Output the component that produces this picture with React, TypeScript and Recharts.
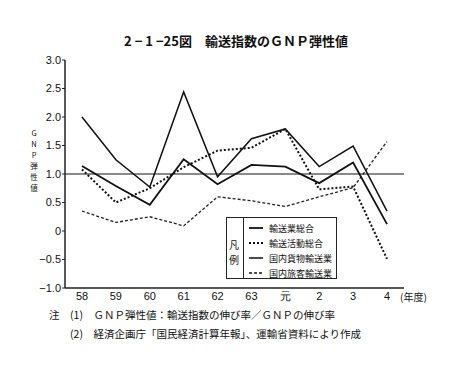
import React from "react";
import { LineChart, Line, XAxis, YAxis, ReferenceLine } from "recharts";

const categories = ["58", "59", "60", "61", "62", "63", "元", "2", "3", "4"];
const freight = [2.0, 1.25, 0.77, 2.44, 0.95, 1.62, 1.79, 1.13, 1.49, 0.35];
const total = [1.14, 0.79, 0.46, 1.26, 0.82, 1.16, 1.13, 0.84, 1.2, 0.12];
const activity = [1.08, 0.5, 0.75, 1.12, 1.41, 1.46, 1.79, 0.73, 0.78, -0.49];
const passenger = [0.35, 0.15, 0.25, 0.09, 0.6, 0.53, 0.43, 0.6, 0.76, 1.57];
const yTicks = [-1, -0.5, 0, 0.5, 1, 1.5, 2, 2.5, 3];
const yTickLabels: Record<string, string> = {
  "-1": "−1.0", "-0.5": "−0.5", "0": "0", "0.5": "0.5", "1": "1.0",
  "1.5": "1.5", "2": "2.0", "2.5": "2.5", "3": "3.0",
};
const yTitle = ["G", "N", "P", "弾", "性", "値"];

const data = categories.map((c, i) => ({
  cat: c,
  freight: freight[i],
  total: total[i],
  activity: activity[i],
  passenger: passenger[i],
}));

const FONT = "'Noto Sans CJK JP', 'Noto Sans', sans-serif";
const NUMFONT = "'Liberation Sans Narrow', 'Liberation Sans', 'DejaVu Sans Condensed', sans-serif";

export default function App() {
  return (
    <div style={{ position: "absolute", left: 0, top: 0, width: 472, height: 369, background: "#fff", fontFamily: FONT, color: "#111" }}>
      <div style={{ position: "absolute", left: 0, width: 472, top: 31, textAlign: "center", fontSize: 13, fontWeight: 700, whiteSpace: "pre" }}>
        {"2 − 1 −25図　輸送指数のＧＮＰ弾性値"}
      </div>
      <LineChart width={472} height={369} data={data} margin={{ top: 60, right: 68, bottom: 61, left: 25 }}>
        <XAxis xAxisId="top" orientation="top" dataKey="cat" height={0} padding={{ left: 17, right: 17 }} tick={false} tickLine={false} axisLine={{ stroke: "#888", strokeWidth: 2, strokeDasharray: "1 1" }} />
        <XAxis dataKey="cat" height={20} padding={{ left: 17, right: 17 }} tickLine={false} tickSize={0} tickMargin={4} axisLine={{ stroke: "#222", strokeWidth: 1.5 }} tick={{ fill: "#111", fontSize: 11, fontFamily: NUMFONT }} interval={0} />
        <YAxis domain={[-1, 3]} ticks={yTicks} width={40} tickSize={3} tickMargin={1} axisLine={{ stroke: "#222", strokeWidth: 1.5 }} tickLine={{ stroke: "#222" }} tick={{ fill: "#111", fontSize: 11, fontFamily: NUMFONT }} tickFormatter={(v: number) => yTickLabels[String(v)]} interval={0} />
        <YAxis yAxisId="right" orientation="right" domain={[-1, 3]} width={0} tick={false} tickLine={false} axisLine={{ stroke: "#222", strokeWidth: 1.5 }} />
        <ReferenceLine y={1} stroke="#8a8a8a" strokeWidth={2} />
        <Line dataKey="freight" stroke="#111" strokeWidth={1.5} dot={false} isAnimationActive={false} />
        <Line dataKey="total" stroke="#111" strokeWidth={1.8} dot={false} isAnimationActive={false} />
        <Line dataKey="activity" stroke="#111" strokeWidth={2} strokeDasharray="2 2" dot={false} isAnimationActive={false} />
        <Line dataKey="passenger" stroke="#222" strokeWidth={1.3} strokeDasharray="3 2" dot={false} isAnimationActive={false} />
      </LineChart>
      <div style={{ position: "absolute", left: 400, top: 289, fontSize: 10, whiteSpace: "pre" }}>(年度)</div>
      {yTitle.map((ch, i) => (
        <div key={ch} style={{ position: "absolute", left: 28, top: 127 + i * 11, width: 12, height: 11, fontSize: 7.5, lineHeight: "11px", textAlign: "center" }}>
          {ch}
        </div>
      ))}
      <div style={{ position: "absolute", left: 226, top: 217, width: 111, height: 62, border: "1.5px solid #222", background: "#fff", boxSizing: "border-box" }}>
        <div style={{ position: "absolute", left: 16, top: 0, width: 0, height: "100%", borderLeft: "1.5px solid #222" }} />
        <div style={{ position: "absolute", left: 2, top: 19, fontSize: 10, lineHeight: "15px" }}>凡<br />例</div>
        {[
          { label: "輸送業総合", dash: "none", w: 1.8 },
          { label: "輸送活動総合", dash: "2 2", w: 2 },
          { label: "国内貨物輸送業", dash: "none", w: 1.5 },
          { label: "国内旅客輸送業", dash: "3 2", w: 1.3 },
        ].map((it, i) => (
          <div key={it.label} style={{ position: "absolute", left: 22, top: 3 + i * 15, height: 14, display: "flex", alignItems: "center", fontSize: 9, whiteSpace: "pre" }}>
            <svg width={14} height={6} style={{ marginRight: 6 }}>
              <line x1={0} y1={3} x2={14} y2={3} stroke="#111" strokeWidth={it.w} strokeDasharray={it.dash} />
            </svg>
            {it.label}
          </div>
        ))}
      </div>
      <div style={{ position: "absolute", left: 49, top: 305, fontSize: 10.5, whiteSpace: "pre", lineHeight: "19px" }}>
        <div>{"注　(1)　ＧＮＰ弾性値：輸送指数の伸び率／ＧＮＰの伸び率"}</div>
        <div>{"　　(2)　経済企画庁「国民経済計算年報」、運輸省資料により作成"}</div>
      </div>
    </div>
  );
}
